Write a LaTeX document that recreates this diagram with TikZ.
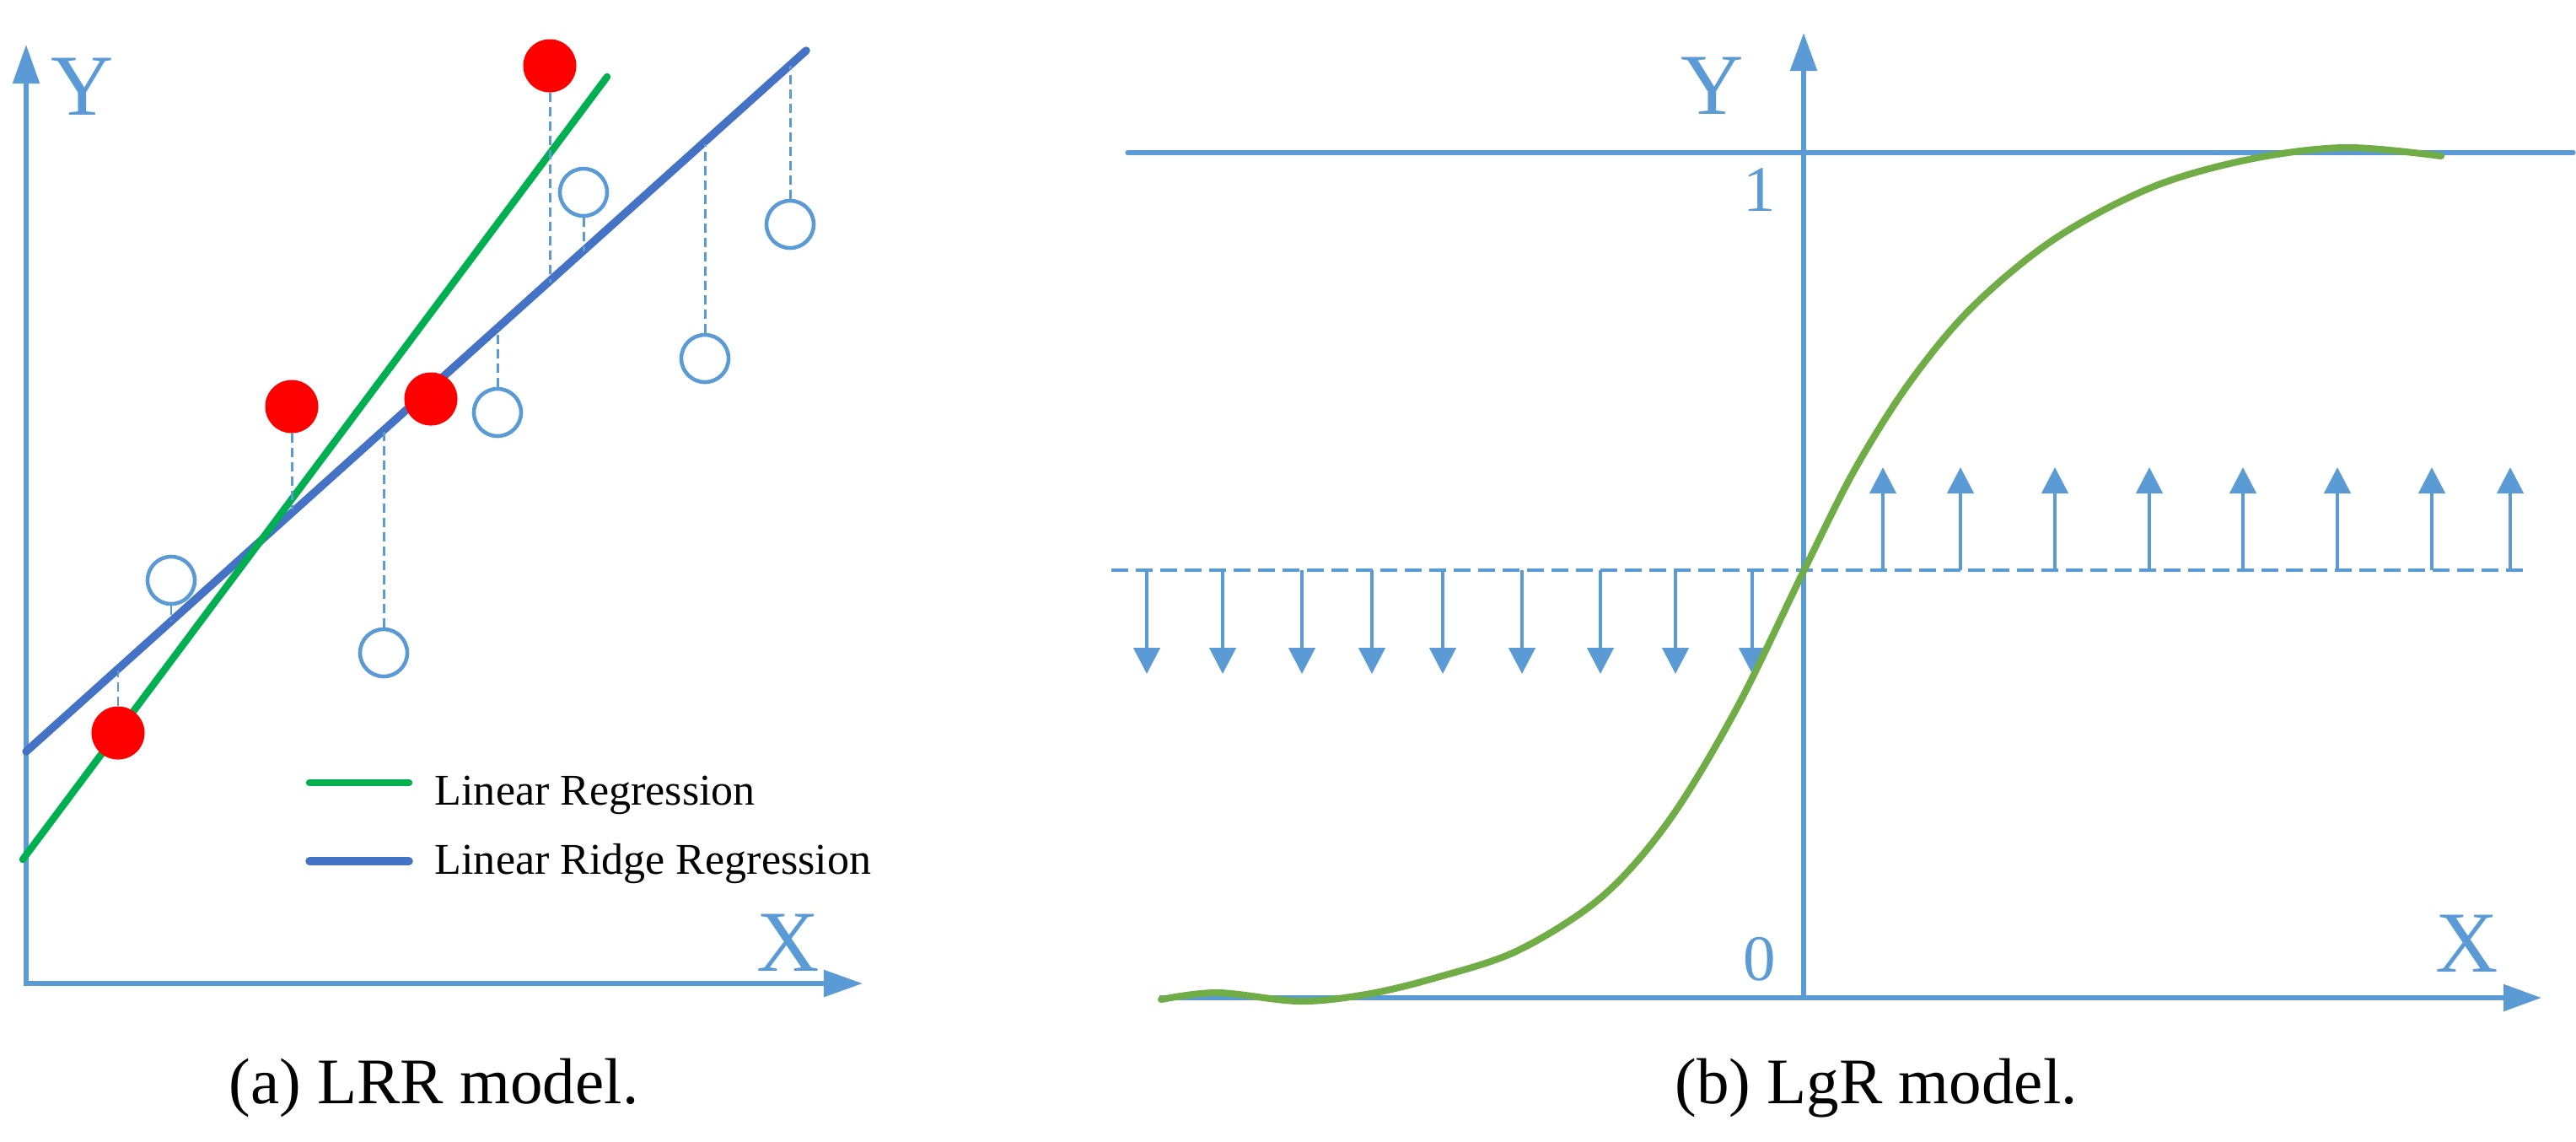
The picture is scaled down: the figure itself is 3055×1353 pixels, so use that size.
\documentclass[tikz,border=0pt]{standalone}
\usepackage{fontspec}
\setmainfont{Liberation Serif}
\newfontfamily\timesfont{Liberation Serif}
\usetikzlibrary{arrows.meta}
\definecolor{axisblue}{HTML}{5B9BD5}
\definecolor{lrgreen}{HTML}{00B050}
\definecolor{ridgeblue}{HTML}{4472C4}
\definecolor{siggreen}{HTML}{70AD47}
\begin{document}
\begin{tikzpicture}[x=0.01cm, y=-0.01cm,
  axisline/.style={draw=axisblue, line width=1.55pt},
  bigtips/.style={{Triangle[length=0.46cm, width=0.31cm]}-{Triangle[length=0.46cm, width=0.31cm]}},
  bigtip/.style={-{Triangle[length=0.45cm, width=0.31cm]}},
  smalltip/.style={draw=axisblue, line width=1.3pt, -{Triangle[length=0.31cm, width=0.31cm]}},
  axlabel/.style={text=axisblue, font={\timesfont\fontsize{29.3pt}{35pt}\selectfont}, inner sep=0pt, anchor=base},
  ticklabel/.style={text=axisblue, font={\timesfont\fontsize{21.9pt}{26pt}\selectfont}, inner sep=0pt, anchor=base},
  legendtext/.style={font={\timesfont\fontsize{14.8pt}{18pt}\selectfont}, inner sep=0pt, anchor=base west},
  captext/.style={font={\timesfont\fontsize{21.9pt}{26pt}\selectfont}, inner sep=0pt, anchor=base west},
  resid/.style={draw=axisblue, line width=0.85pt, dash pattern=on 0.11cm off 0.06cm},
  sigdash/.style={draw=axisblue, line width=1.3pt, dash pattern=on 0.2cm off 0.09cm},
  reddot/.style={circle, fill=red, minimum size=0.63cm, inner sep=0pt},
  hollow/.style={circle, draw=axisblue, line width=1.3pt, minimum size=0.56cm, inner sep=0pt},
  regLR/.style={draw=lrgreen, line width=2.4pt, line cap=round},
  regRR/.style={draw=ridgeblue, line width=2.7pt, line cap=round},
  sigcurve/.style={draw=siggreen, line width=2.3pt, line cap=round}
]
\useasboundingbox (0,0) rectangle (3055,1353);

% ---------------- (a) LRR model ----------------
\coordinate (ya) at (31,53);
\coordinate (oa) at (31,1166);
\coordinate (xa) at (1023,1166);
\draw[axisline, bigtips] (ya) |- (xa);
\node[axlabel] (ylab) at (98,136) {Y};
\node[axlabel] (xlab) at (935,1151) {X};

% regression lines
\coordinate (g1) at (27,1019);
\coordinate (g2) at (720,91);
\coordinate (b1) at (31,891);
\coordinate (b2) at (956,60);
\draw[regRR] (b1) -- (b2);
\draw[regLR] (g1) -- (g2);

% data points
\node[reddot] (r1) at (140,869) {};
\node[reddot] (r2) at (346,482) {};
\node[reddot] (r3) at (511,473) {};
\node[reddot] (r4) at (652,78) {};
\node[hollow] (c1) at (203,688) {};
\node[hollow] (c2) at (455,774) {};
\node[hollow] (c3) at (590,489) {};
\node[hollow] (c4) at (692,228) {};
\node[hollow] (c5) at (836,425) {};
\node[hollow] (c6) at (937,266) {};

% feet on the ridge line
\coordinate (fr1) at (140,795);
\coordinate (fr2) at (346,604);
\coordinate (fr4) at (652,335);
\coordinate (fc1) at (203,737);
\coordinate (fc2) at (455,509);
\coordinate (fc3) at (590,390);
\coordinate (fc4) at (692,298);
\coordinate (fc5) at (836,171);
\coordinate (fc6) at (937,78);
\draw[resid] (r1) -- (fr1);
\draw[resid] (r2) -- (fr2);
\draw[resid] (r4) -- (fr4);
\draw[resid] (c1) -- (fc1);
\draw[resid] (c2) -- (fc2);
\draw[resid] (c3) -- (fc3);
\draw[resid] (c4) -- (fc4);
\draw[resid] (c5) -- (fc5);
\draw[resid] (c6) -- (fc6);

% legend
\draw[regLR] (367,928) -- (485,928);
\draw[regRR] (367,1021) -- (485,1021);
\node[legendtext] (leg1) at (515,954) {Linear Regression};
\node[legendtext] (leg2) at (515,1036) {Linear Ridge Regression};

\node[captext] (capa) at (271,1308) {(a) LRR model.};

% ---------------- (b) LgR model ----------------
\coordinate (xb0) at (1375,1183);
\coordinate (xb) at (3014,1183);
\coordinate (yb0) at (2139,1183);
\coordinate (yb) at (2139,39);
\draw[axisline, bigtip] (xb0) -- (xb);
\draw[axisline, bigtip] (yb0) -- (yb);
\node[axlabel] (ylabb) at (2031,135) {Y};
\node[axlabel] (xlabb) at (2926,1152) {X};
\node[ticklabel] (one) at (2087,250) {1};
\node[ticklabel] (zero) at (2087,1162) {0};

\coordinate (t1) at (1337,181);
\coordinate (t2) at (3052,181);
\draw[draw=axisblue, line width=1.5pt, line cap=round] (t1) -- (t2);

\coordinate (d1) at (1318,676);
\coordinate (d2) at (2998,676);
\draw[sigdash] (d1) -- (d2);

\foreach \xx [count=\i] in {1360,1450,1544,1627,1711,1805,1898,1987,2078}{
  \coordinate (dn\i) at (\xx,676);
  \coordinate (dt\i) at (\xx,799);
  \draw[smalltip] (dn\i) -- (dt\i);
}
\foreach \xx [count=\i] in {2233,2325,2437,2549,2660,2772,2884,2977}{
  \coordinate (up\i) at (\xx,676);
  \coordinate (ut\i) at (\xx,554);
  \draw[smalltip] (up\i) -- (ut\i);
}

\draw[sigcurve] plot[smooth, tension=0.55] coordinates {
  (1377,1185) (1444,1177) (1541,1187) (1620,1179) (1700,1160)
  (1800,1127) (1900,1063) (1980,972)
  (2060,839) (2139,677) (2200,556) (2265,453)
  (2339,364) (2437,283) (2552,222) (2667,189) (2781,175) (2895,185)};

\node[captext] (capb) at (1986,1308) {(b) LgR model.};
\end{tikzpicture}
\end{document}
